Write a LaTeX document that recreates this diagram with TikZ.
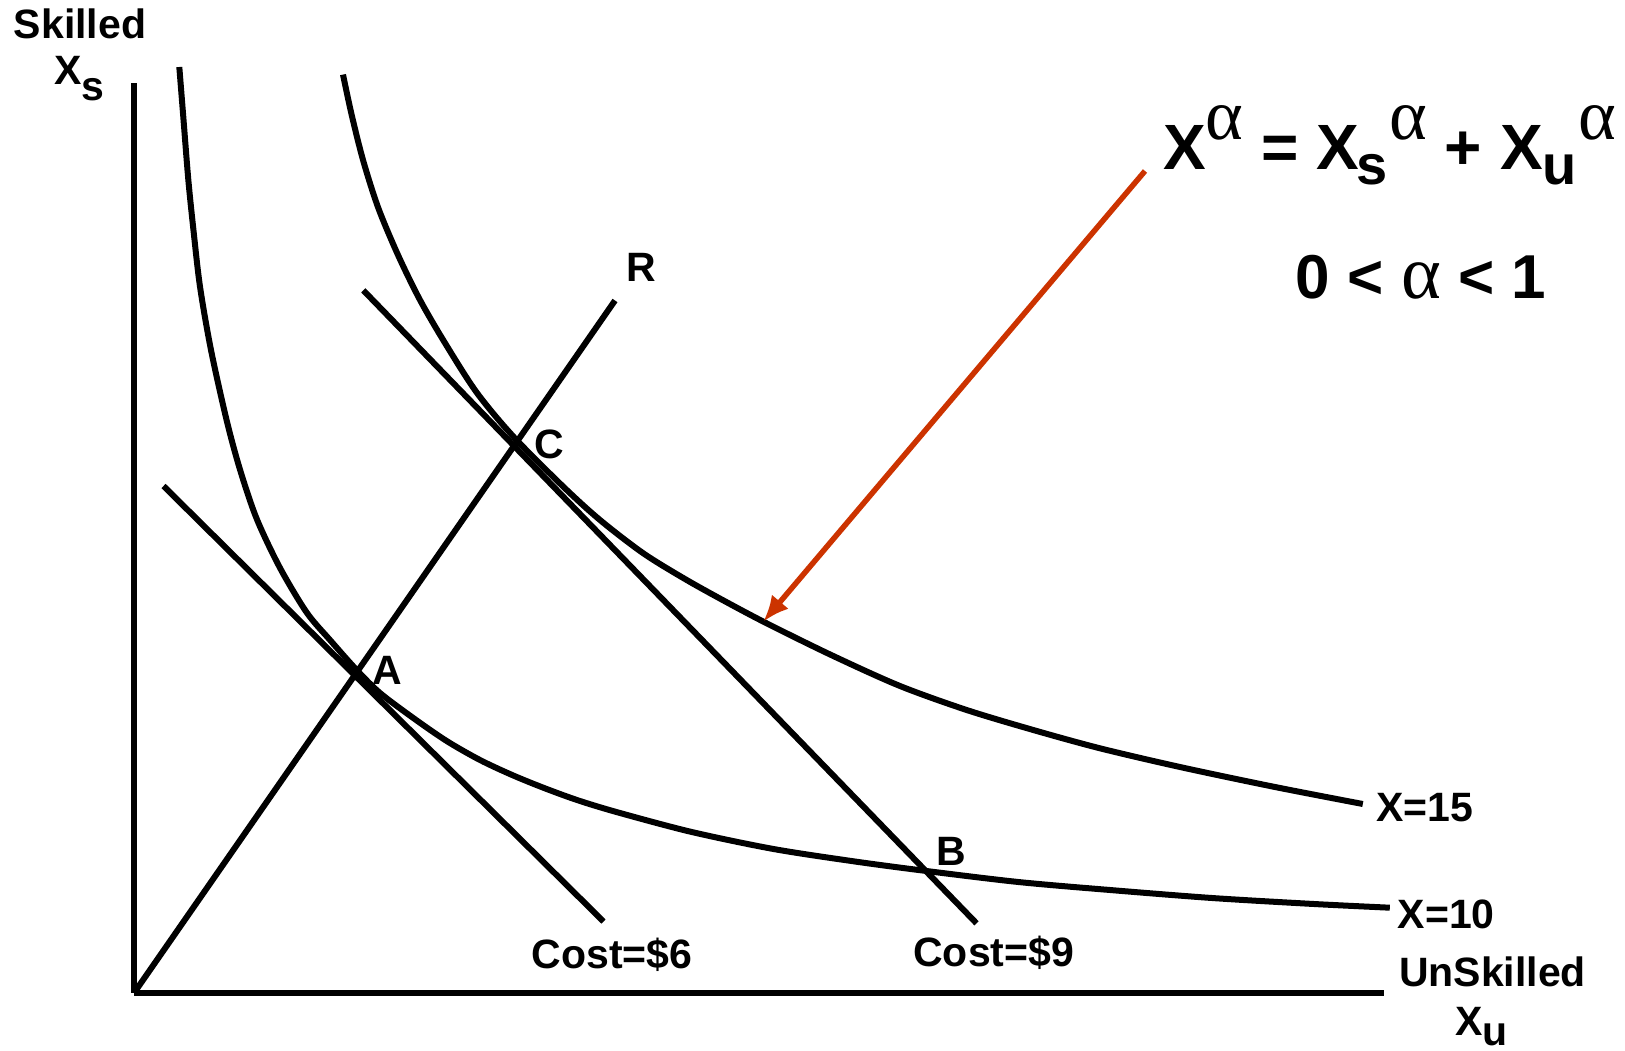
\documentclass[tikz,border=0pt]{standalone}
\usepackage{fontspec}
\setmainfont{Liberation Sans}
\newfontfamily\greekfont{Liberation Serif}
\usetikzlibrary{arrows.meta}
\definecolor{arrowred}{RGB}{204,51,0}

\begin{document}
\begin{tikzpicture}[x=1pt,y=-1pt,>=Latex,
  axis/.style={line width=6.5pt},
  costline/.style={line width=6pt},
  isoquant/.style={line width=6pt,smooth,tension=0.5},
  every node/.style={inner sep=0pt,font=\fontsize{41}{48}\selectfont\bfseries}]
\useasboundingbox (0,0) rectangle (1625,1051);
% axes
\coordinate (O) at (134,993);
\coordinate (ytop) at (134,83.5);
\coordinate (xend) at (1383.5,993);
\draw[axis] (ytop) -- (O);
\draw[axis] (O) -- (xend);
\node[anchor=base] (skl) at (80,38.3) {Skilled};
\node[anchor=base west] (xs) at (54,85) {X\raisebox{-16pt}{s}};
\node[anchor=base] (uns) at (1492.5,986.7) {UnSkilled};
\node[anchor=base west] (xu) at (1455,1035) {X\raisebox{-10pt}{u}};
% ray R
\coordinate (Rtop) at (615,300.5);
\draw[costline] (O) -- (Rtop);
\node[anchor=base] (lR) at (641,281.5) {R};
% cost lines
\coordinate (c6a) at (163.5,486);
\coordinate (c6b) at (603.5,921.5);
\coordinate (c9a) at (363.3,290.3);
\coordinate (c9b) at (976.5,923.3);
\draw[costline] (c6a) -- (c6b);
\draw[costline] (c9a) -- (c9b);
\node[anchor=base] (cost6) at (612,968.3) {Cost=\$6};
\node[anchor=base] (cost9) at (993.7,966.7) {Cost=\$9};
% isoquants
\draw[isoquant] plot coordinates {(179.3,67) (183.3,117) (188.3,179.5)
  (193.3,228.6) (200,286.6) (211,350) (226.7,420.5) (240,469.6)
  (256.7,518.8) (280,567.9) (306.7,612.5) (330,640) (356.7,670)
  (380,693) (413.3,718) (446.7,741) (480,760) (513.3,775.5) (546.7,789)
  (580,801) (620,813) (691.8,832) (773.5,849) (855,861.5) (926.5,871)
  (1018.4,882) (1110,890) (1212,898) (1314,904) (1389.8,907.7)};
\draw[isoquant] plot coordinates {(343,74.6) (351.7,115) (363.3,161)
  (378.3,208) (398,255) (420,300) (445,343) (476.7,392.5) (513.3,436.5)
  (563.3,486.7) (600,520) (643.3,553.3) (686.7,580) (730,604) (770,625)
  (833.3,656) (900,686) (966.7,710) (1033.3,730) (1100,748.3) (1180,767)
  (1273.5,786.7) (1362.8,804)};
\node[anchor=base west] (x15) at (1376,821.7) {X=15};
\node[anchor=base west] (x10) at (1397.5,928.3) {X=10};
% points
\node[anchor=base] (ptA) at (387.5,684) {A};
\node[anchor=base] (ptB) at (951,865) {B};
\node[anchor=base] (ptC) at (549.7,458.5) {C};
% formula
\node[anchor=base west,font=\fontsize{64}{70}\selectfont\bfseries] (law) at (1163,170)
  {X\raisebox{30pt}{\greekfont\mdseries\fontsize{72}{74}\selectfont α}\ =\ X\kern-3pt\raisebox{-15pt}{\fontsize{56}{60}\selectfont s}\kern2pt\raisebox{30pt}{\greekfont\mdseries\fontsize{72}{74}\selectfont α}\ +\ X\raisebox{-15pt}{\fontsize{56}{60}\selectfont u}\kern2pt\raisebox{30pt}{\greekfont\mdseries\fontsize{72}{74}\selectfont α}};
\node[anchor=base,font=\fontsize{62}{68}\selectfont\bfseries] (range) at (1421,298.3)
  {0 < {\greekfont\mdseries\fontsize{76}{78}\selectfont α} < 1};
\coordinate (tail) at (1145,171);
\coordinate (tip) at (763.3,621.7);
\draw[arrowred,line width=5.5pt,-{Latex[length=26pt,width=22pt]}] (tail) -- (tip);
\end{tikzpicture}
\end{document}
